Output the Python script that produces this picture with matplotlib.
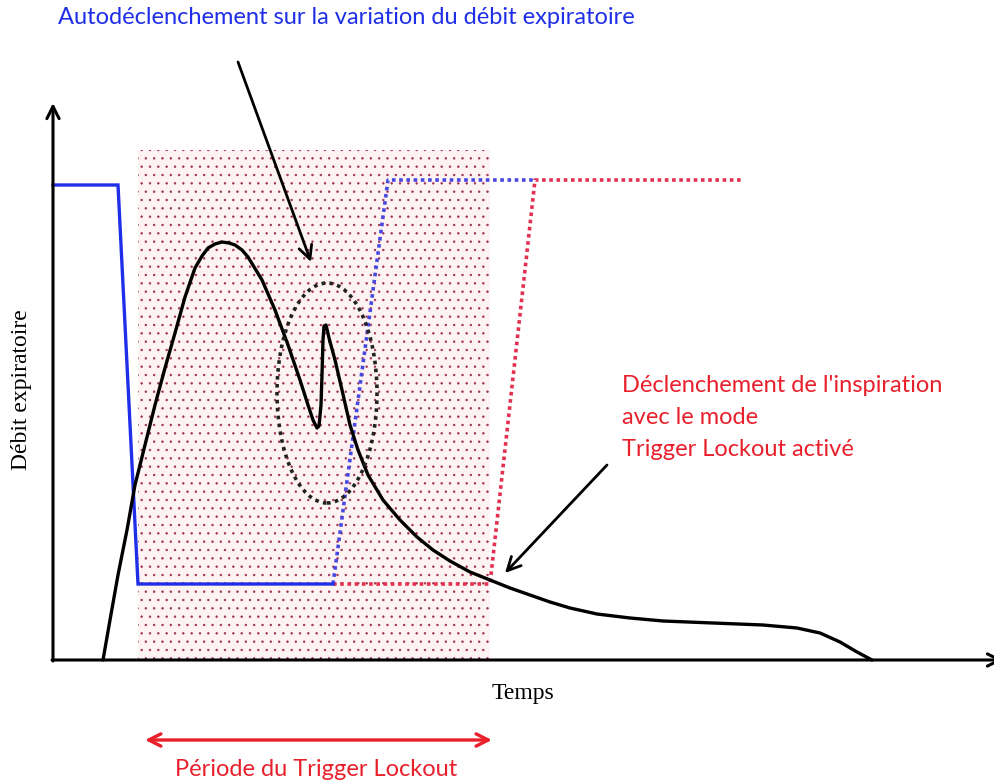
import matplotlib
matplotlib.use("Agg")
import matplotlib.pyplot as plt
from matplotlib.patches import Rectangle, Ellipse

# ---- data (schematic units: time to the right, expiratory flow upward) ----
blue_solid_t = [0, 65, 85, 280]
blue_solid_f = [475, 475, 76, 76]

blue_dotted_t = [280, 335, 482]
blue_dotted_f = [76, 480, 480]

red_dotted_t = [280, 437, 482, 689]
red_dotted_f = [76, 76, 480, 480]

flow_t = [50, 57, 65, 74, 82, 92, 102, 112, 122, 132, 142, 149, 155, 162, 169,
          176, 182, 189, 195, 209, 222, 235, 247, 255, 260, 264, 266, 268, 269,
          270, 271, 273, 276, 282, 289, 297, 305, 315, 330, 347, 364, 380, 397,
          417, 437, 457, 477, 497, 517, 544, 577, 610, 660, 710, 744, 767, 787,
          804, 819]
flow_f = [0, 40, 85, 130, 175, 215, 255, 292, 327, 363, 392, 404, 412, 416, 418,
          417, 415, 410, 403, 380, 350, 315, 280, 255, 240, 232, 234, 255, 285,
          320, 334, 335, 322, 300, 270, 235, 210, 185, 160, 140, 123, 110, 99,
          88, 80, 72, 65, 58, 52, 46, 42, 39, 37, 35, 32, 27, 18,
          8, 0]

lockout_start, lockout_end = 85, 437
lockout_top = 510

title_text = "Autodéclenchement sur la variation du débit expiratoire"
red_lines = ["Déclenchement de l'inspiration", "avec le mode", "Trigger Lockout activé"]
xlabel_text = "Temps"
ylabel_text = "Débit expiratoire"
period_text = "Période du Trigger Lockout"

BLUE = "#1f2fe8"
BLUE_DOT = "#4848e0"
RED = "#e8202c"
RED_DOT = "#e43050"

plt.rcParams["hatch.linewidth"] = 0.5

fig = plt.figure(figsize=(9.95, 7.83), dpi=100)
ax = fig.add_axes([0, 0, 1, 1])
ax.set_xlim(-53, 942)
ax.set_ylim(-123, 660)
ax.axis("off")

# lockout shaded dotted region
ax.add_patch(Rectangle((lockout_start, 0), lockout_end - lockout_start, lockout_top,
                       facecolor="#fdf3f3", edgecolor="#a03050", hatch="..",
                       linewidth=0, zorder=1))

# axes arrows
ax.annotate("", xy=(0, 557), xytext=(0, -1),
            arrowprops=dict(arrowstyle="->", lw=2.2, color="black",
                            mutation_scale=22, shrinkA=0, shrinkB=0), zorder=5)
ax.annotate("", xy=(950, 0), xytext=(-1, 0),
            arrowprops=dict(arrowstyle="->", lw=2.2, color="black",
                            mutation_scale=22, shrinkA=0, shrinkB=0),
            annotation_clip=False, zorder=5)

# trigger lines
ax.plot(blue_solid_t, blue_solid_f, color=BLUE, lw=2.4, zorder=4,
        solid_joinstyle="miter")
ax.plot(red_dotted_t, red_dotted_f, color=RED_DOT, lw=2.6, ls=(0, (1, 1)), zorder=3)
ax.plot(blue_dotted_t, blue_dotted_f, color=BLUE_DOT, lw=2.6, ls=(0, (1, 1)), zorder=3)

# flow curve
ax.plot(flow_t, flow_f, color="black", lw=2.4, zorder=4,
        solid_joinstyle="round", solid_capstyle="round")

# ellipse around the autotrigger
ax.add_patch(Ellipse((274, 267), 100, 220, fill=False, edgecolor="#222222",
                     lw=2.6, ls=(0, (1, 1.2)), zorder=4))

# annotation arrows
ax.annotate("", xy=(258, 398), xytext=(185, 598),
            arrowprops=dict(arrowstyle="->", lw=2.0, color="black",
                            mutation_scale=24, shrinkA=0, shrinkB=0), zorder=6)
ax.annotate("", xy=(452, 87), xytext=(554, 195),
            arrowprops=dict(arrowstyle="->", lw=2.0, color="black",
                            mutation_scale=24, shrinkA=0, shrinkB=0), zorder=6)

# period double arrow
ax.annotate("", xy=(92, -80), xytext=(439, -80),
            arrowprops=dict(arrowstyle="<->", lw=2.4, color=RED,
                            mutation_scale=22, shrinkA=0, shrinkB=0),
            annotation_clip=False, zorder=6)

sans = ["Lato", "DejaVu Sans"]
serif = ["Liberation Serif", "DejaVu Serif"]
FS = 17

ax.text(5, 642, title_text, color=BLUE, fontsize=FS, family=sans,
        ha="left", va="center")
for i, line in enumerate(red_lines):
    ax.text(569, 274 - 32 * i, line, color=RED, fontsize=FS, family=sans,
            ha="left", va="center")
ax.text(263, -110, period_text, color=RED, fontsize=FS, family=sans,
        ha="center", va="center")
ax.text(470, -33, xlabel_text, color="black", fontsize=17, family=serif,
        ha="center", va="center")
ax.text(-31, 270, ylabel_text, color="black", fontsize=17, family=serif,
        ha="center", va="center", rotation=90)

fig.savefig("out.png", dpi=100)
